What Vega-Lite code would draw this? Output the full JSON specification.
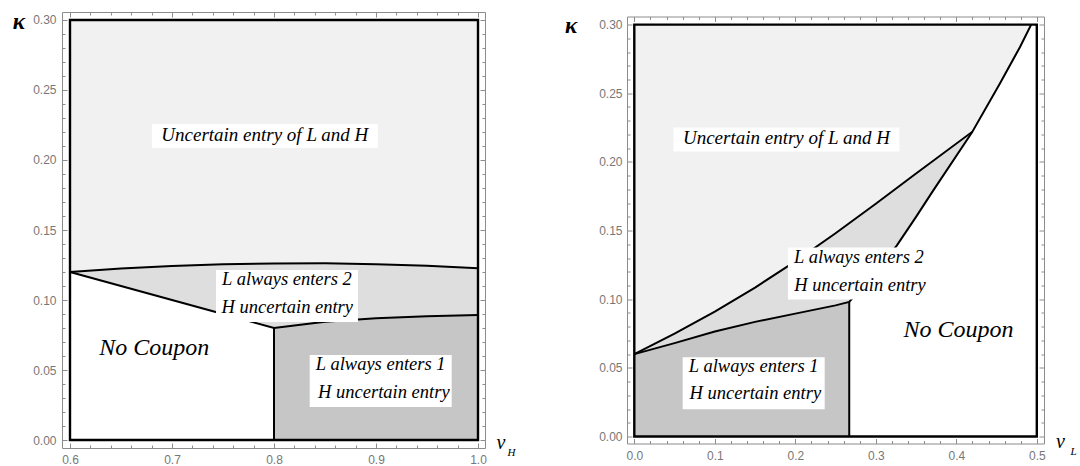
{
  "$schema": "https://vega.github.io/schema/vega-lite/v6.json",
  "background": "white",
  "padding": {"left": 12, "top": 10, "right": 0, "bottom": 0},
  "spacing": 142,
  "bounds": "flush",
  "center": true,
  "config": {
    "view": {"stroke": null},
    "axis": {
      "grid": false,
      "domainColor": "#8c8c8c",
      "tickColor": "#8c8c8c",
      "labelColor": "#777777",
      "labelFont": "Liberation Sans",
      "labelFontSize": 12,
      "tickSize": -5,
      "labelOverlap": false,
      "labelFlush": false,
      "titleFont": "Liberation Serif",
      "titleColor": "black",
      "titleFontStyle": "italic",
      "titleFontWeight": "normal",
      "titlePadding": 0
    }
  },
  "datasets": {
    "L_reg": [
      {"x": 0.6, "lo": 0.12, "hi": 0.12},
      {"x": 0.65, "lo": 0.11, "hi": 0.1225},
      {"x": 0.7, "lo": 0.1, "hi": 0.1243},
      {"x": 0.75, "lo": 0.09, "hi": 0.1255},
      {"x": 0.8, "lo": 0.08, "hi": 0.1261},
      {"x": 0.85, "lo": 0.0845, "hi": 0.1262},
      {"x": 0.9, "lo": 0.087, "hi": 0.1256},
      {"x": 0.95, "lo": 0.0884, "hi": 0.1244},
      {"x": 1.0, "lo": 0.0893, "hi": 0.1226}
    ],
    "L_vert": [{"x": 0.8, "y": 0, "y2": 0.08}],
    "L_frame": [{"x": 0.6, "x2": 1.0, "y": 0, "y2": 0.3}],
    "L_text": [
      {"t": "Uncertain entry of  L and  H", "x": 0.791, "y": 0.2136, "kind": "u", "line": 1},
      {"t": "L always enters 2", "x": 0.8127, "y": 0.1107, "kind": "c", "line": 1},
      {"t": "H uncertain entry", "x": 0.813, "y": 0.0907, "kind": "c", "line": 2},
      {"t": "L always enters 1", "x": 0.9046, "y": 0.05, "kind": "c", "line": 1},
      {"t": "H uncertain entry", "x": 0.9077, "y": 0.03, "kind": "c", "line": 2},
      {"t": "No Coupon", "x": 0.6825, "y": 0.0607, "kind": "n", "line": 1}
    ],
    "R_up": [
      {"x": 0, "y": 0.06},
      {"x": 0.05, "y": 0.075},
      {"x": 0.1, "y": 0.091},
      {"x": 0.15, "y": 0.1085},
      {"x": 0.2, "y": 0.1275},
      {"x": 0.25, "y": 0.148},
      {"x": 0.3, "y": 0.1695},
      {"x": 0.35, "y": 0.1915},
      {"x": 0.42, "y": 0.222},
      {"x": 0.454, "y": 0.257},
      {"x": 0.479, "y": 0.2835},
      {"x": 0.493, "y": 0.3}
    ],
    "R_mid": [
      {"x": 0, "lo": 0.06, "hi": 0.06},
      {"x": 0.05, "lo": 0.068, "hi": 0.075},
      {"x": 0.1, "lo": 0.0765, "hi": 0.091},
      {"x": 0.15, "lo": 0.0835, "hi": 0.1085},
      {"x": 0.2, "lo": 0.0895, "hi": 0.1275},
      {"x": 0.25, "lo": 0.0955, "hi": 0.148},
      {"x": 0.267, "lo": 0.098, "hi": 0.1553},
      {"x": 0.3, "lo": 0.12, "hi": 0.1695},
      {"x": 0.326, "lo": 0.139, "hi": 0.181},
      {"x": 0.35, "lo": 0.16, "hi": 0.1915},
      {"x": 0.37, "lo": 0.178, "hi": 0.2003},
      {"x": 0.42, "lo": 0.222, "hi": 0.222}
    ],
    "R_vert": [{"x": 0.267, "y": 0, "y2": 0.098}],
    "R_frame": [{"x": 0, "x2": 0.5, "y": 0, "y2": 0.3}],
    "R_text": [
      {"t": "Uncertain entry of  L and  H", "x": 0.189, "y": 0.2127, "kind": "u", "line": 1},
      {"t": "L always enters 2", "x": 0.279, "y": 0.1267, "kind": "c", "line": 1},
      {"t": "H uncertain entry", "x": 0.2804, "y": 0.1063, "kind": "c", "line": 2},
      {"t": "L always enters 1", "x": 0.1483, "y": 0.0468, "kind": "c", "line": 1},
      {"t": "H uncertain entry", "x": 0.1504, "y": 0.0275, "kind": "c", "line": 2},
      {"t": "No Coupon", "x": 0.4027, "y": 0.0728, "kind": "n", "line": 1}
    ]
  },
  "hconcat": [
    {
      "width": 423,
      "height": 436,
      "resolve": {"axis": {"x": "independent", "y": "independent"}},
      "layer": [
        {
          "data": {"name": "L_reg"},
          "mark": {"type": "area", "color": "#f1f1f1"},
          "encoding": {
            "x": {"field": "x", "type": "quantitative", "scale": {"domain": [0.59216, 1.00686], "nice": false, "zero": false},
              "axis": {"orient": "bottom", "values": [0.6,0.62,0.64,0.66,0.68,0.7,0.72,0.74,0.76,0.78,0.8,0.82,0.84,0.86,0.88,0.9,0.92,0.94,0.96,0.98,1.0],
                "labelExpr": "abs(datum.value*10-round(datum.value*10))<1e-6 ? format(datum.value,'.1f') : ''",
                "tickDash": {"condition": {"test": "abs(datum.value*10-round(datum.value*10))>1e-6", "value": [3, 10]}, "value": []},
                "labelPadding": 11.5, "title": "v", "titleFontSize": 20, "titleX": 438.5, "titleY": 0.3, "titleAlign": "center", "titleBaseline": "alphabetic", "titleAngle": 0}},
            "y": {"field": "hi", "type": "quantitative", "scale": {"domain": [-0.00571, 0.30571], "nice": false, "zero": false},
              "axis": {"orient": "left", "values": [0,0.01,0.02,0.03,0.04,0.05,0.06,0.07,0.08,0.09,0.1,0.11,0.12,0.13,0.14,0.15,0.16,0.17,0.18,0.19,0.2,0.21,0.22,0.23,0.24,0.25,0.26,0.27,0.28,0.29,0.3],
                "labelExpr": "abs(datum.value*20-round(datum.value*20))<1e-6 ? format(datum.value,'.2f') : ''",
                "tickDash": {"condition": {"test": "abs(datum.value*20-round(datum.value*20))>1e-6", "value": [3, 10]}, "value": []},
                "labelPadding": 11, "title": "κ", "titleAngle": 0, "titleX": -43.7, "titleY": 16.3, "titleAlign": "center", "titleBaseline": "alphabetic", "titleFontSize": 23, "titleFontWeight": "bold"}},
            "y2": {"datum": 0.3}
          }
        },
        {
          "data": {"name": "L_reg"},
          "mark": {"type": "area", "color": "#dedede"},
          "encoding": {
            "x": {"field": "x", "type": "quantitative", "scale": {"domain": [0.59216, 1.00686], "nice": false, "zero": false},
              "axis": {"orient": "top", "values": [0.6,0.62,0.64,0.66,0.68,0.7,0.72,0.74,0.76,0.78,0.8,0.82,0.84,0.86,0.88,0.9,0.92,0.94,0.96,0.98,1.0],
                "labels": false,
                "tickDash": {"condition": {"test": "abs(datum.value*10-round(datum.value*10))>1e-6", "value": [3, 10]}, "value": []},
                "title": "H", "titleFontSize": 11, "titleX": 449, "titleY": 443, "titleAlign": "center", "titleBaseline": "alphabetic"}},
            "y": {"field": "lo", "type": "quantitative", "scale": {"domain": [-0.00571, 0.30571], "nice": false, "zero": false},
              "axis": {"orient": "right", "values": [0,0.01,0.02,0.03,0.04,0.05,0.06,0.07,0.08,0.09,0.1,0.11,0.12,0.13,0.14,0.15,0.16,0.17,0.18,0.19,0.2,0.21,0.22,0.23,0.24,0.25,0.26,0.27,0.28,0.29,0.3],
                "labels": false,
                "tickDash": {"condition": {"test": "abs(datum.value*20-round(datum.value*20))>1e-6", "value": [3, 10]}, "value": []},
                "title": null}},
            "y2": {"field": "hi"}
          }
        },
        {
          "data": {"name": "L_reg"},
          "transform": [{"filter": "datum.x >= 0.8"}],
          "mark": {"type": "area", "color": "#c6c6c6"},
          "encoding": {
            "x": {"field": "x", "type": "quantitative", "scale": {"domain": [0.59216, 1.00686], "nice": false, "zero": false}, "axis": null},
            "y": {"field": "lo", "type": "quantitative", "scale": {"domain": [-0.00571, 0.30571], "nice": false, "zero": false}, "axis": null},
            "y2": {"datum": 0}
          }
        },
        {
          "data": {"name": "L_reg"},
          "mark": {"type": "line", "color": "black", "strokeWidth": 2},
          "encoding": {
            "x": {"field": "x", "type": "quantitative", "scale": {"domain": [0.59216, 1.00686], "nice": false, "zero": false}, "axis": null},
            "y": {"field": "hi", "type": "quantitative", "scale": {"domain": [-0.00571, 0.30571], "nice": false, "zero": false}, "axis": null}
          }
        },
        {
          "data": {"name": "L_reg"},
          "mark": {"type": "line", "color": "black", "strokeWidth": 2},
          "encoding": {
            "x": {"field": "x", "type": "quantitative", "scale": {"domain": [0.59216, 1.00686], "nice": false, "zero": false}, "axis": null},
            "y": {"field": "lo", "type": "quantitative", "scale": {"domain": [-0.00571, 0.30571], "nice": false, "zero": false}, "axis": null}
          }
        },
        {
          "data": {"name": "L_vert"},
          "mark": {"type": "rule", "color": "black", "strokeWidth": 2},
          "encoding": {
            "x": {"field": "x", "type": "quantitative", "scale": {"domain": [0.59216, 1.00686], "nice": false, "zero": false}, "axis": null},
            "y": {"field": "y", "type": "quantitative", "scale": {"domain": [-0.00571, 0.30571], "nice": false, "zero": false}, "axis": null},
            "y2": {"field": "y2"}
          }
        },
        {
          "data": {"name": "L_frame"},
          "mark": {"type": "rect", "filled": false, "color": "black", "strokeWidth": 2.4},
          "encoding": {
            "x": {"field": "x", "type": "quantitative", "scale": {"domain": [0.59216, 1.00686], "nice": false, "zero": false}, "axis": null},
            "x2": {"field": "x2"},
            "y": {"field": "y", "type": "quantitative", "scale": {"domain": [-0.00571, 0.30571], "nice": false, "zero": false}, "axis": null},
            "y2": {"field": "y2"}
          }
        },
        {
          "data": {"name": "L_text"},
          "transform": [{"filter": "datum.kind == 'c' && datum.line == 1"}],
          "mark": {"type": "point", "shape": "M-1,-0.366L1,-0.366L1,0.366L-1,0.366Z", "size": 20164, "filled": true, "color": "white", "opacity": 1, "strokeWidth": 0, "yOffset": 11},
          "encoding": {
            "x": {"field": "x", "type": "quantitative", "scale": {"domain": [0.59216, 1.00686], "nice": false, "zero": false}, "axis": null},
            "y": {"field": "y", "type": "quantitative", "scale": {"domain": [-0.00571, 0.30571], "nice": false, "zero": false}, "axis": null}
          }
        },
        {
          "data": {"name": "L_text"},
          "transform": [{"filter": "datum.kind == 'u'"}],
          "mark": {"type": "point", "shape": "M-1,-0.106L1,-0.106L1,0.106L-1,0.106Z", "size": 51076, "filled": true, "color": "white", "opacity": 1, "strokeWidth": 0, "yOffset": -5},
          "encoding": {
            "x": {"field": "x", "type": "quantitative", "scale": {"domain": [0.59216, 1.00686], "nice": false, "zero": false}, "axis": null},
            "y": {"field": "y", "type": "quantitative", "scale": {"domain": [-0.00571, 0.30571], "nice": false, "zero": false}, "axis": null}
          }
        },
        {
          "data": {"name": "L_text"},
          "transform": [{"filter": "datum.kind == 'u'"}],
          "mark": {"type": "text", "font": "Liberation Serif", "fontStyle": "italic", "fontSize": 19, "baseline": "alphabetic", "align": "center", "color": "black"},
          "encoding": {
            "x": {"field": "x", "type": "quantitative", "scale": {"domain": [0.59216, 1.00686], "nice": false, "zero": false}, "axis": null},
            "y": {"field": "y", "type": "quantitative", "scale": {"domain": [-0.00571, 0.30571], "nice": false, "zero": false}, "axis": null},
            "text": {"field": "t"}
          }
        },
        {
          "data": {"name": "L_text"},
          "transform": [{"filter": "datum.kind == 'c'"}],
          "mark": {"type": "text", "font": "Liberation Serif", "fontStyle": "italic", "fontSize": 18.5, "baseline": "alphabetic", "align": "center", "color": "black"},
          "encoding": {
            "x": {"field": "x", "type": "quantitative", "scale": {"domain": [0.59216, 1.00686], "nice": false, "zero": false}, "axis": null},
            "y": {"field": "y", "type": "quantitative", "scale": {"domain": [-0.00571, 0.30571], "nice": false, "zero": false}, "axis": null},
            "text": {"field": "t"}
          }
        },
        {
          "data": {"name": "L_text"},
          "transform": [{"filter": "datum.kind == 'n'"}],
          "mark": {"type": "text", "font": "Liberation Serif", "fontStyle": "italic", "fontSize": 24, "baseline": "alphabetic", "align": "center", "color": "black"},
          "encoding": {
            "x": {"field": "x", "type": "quantitative", "scale": {"domain": [0.59216, 1.00686], "nice": false, "zero": false}, "axis": null},
            "y": {"field": "y", "type": "quantitative", "scale": {"domain": [-0.00571, 0.30571], "nice": false, "zero": false}, "axis": null},
            "text": {"field": "t"}
          }
        }
      ]
    },
    {
      "width": 417,
      "height": 427,
      "resolve": {"axis": {"x": "independent", "y": "independent"}},
      "layer": [
        {
          "data": {"name": "R_up"},
          "mark": {"type": "area", "color": "#f1f1f1"},
          "encoding": {
            "x": {"field": "x", "type": "quantitative", "scale": {"domain": [-0.00907, 0.50894], "nice": false, "zero": false},
              "axis": {"orient": "bottom", "values": [0,0.02,0.04,0.06,0.08,0.1,0.12,0.14,0.16,0.18,0.2,0.22,0.24,0.26,0.28,0.3,0.32,0.34,0.36,0.38,0.4,0.42,0.44,0.46,0.48,0.5],
                "labelExpr": "abs(datum.value*10-round(datum.value*10))<1e-6 ? format(datum.value,'.1f') : ''",
                "tickDash": {"condition": {"test": "abs(datum.value*10-round(datum.value*10))>1e-6", "value": [3, 10]}, "value": []},
                "labelPadding": 12, "title": "v", "titleFontSize": 20, "titleX": 433, "titleY": 3.5, "titleAlign": "center", "titleBaseline": "alphabetic", "titleAngle": 0}},
            "y": {"field": "y", "type": "quantitative", "scale": {"domain": [-0.0051, 0.3059], "nice": false, "zero": false},
              "axis": {"orient": "left", "values": [0,0.01,0.02,0.03,0.04,0.05,0.06,0.07,0.08,0.09,0.1,0.11,0.12,0.13,0.14,0.15,0.16,0.17,0.18,0.19,0.2,0.21,0.22,0.23,0.24,0.25,0.26,0.27,0.28,0.29,0.3],
                "labelExpr": "abs(datum.value*20-round(datum.value*20))<1e-6 ? format(datum.value,'.2f') : ''",
                "tickDash": {"condition": {"test": "abs(datum.value*20-round(datum.value*20))>1e-6", "value": [3, 10]}, "value": []},
                "labelPadding": 10, "title": "κ", "titleAngle": 0, "titleX": -56.5, "titleY": 15.7, "titleAlign": "center", "titleBaseline": "alphabetic", "titleFontSize": 23, "titleFontWeight": "bold"}},
            "y2": {"datum": 0.3}
          }
        },
        {
          "data": {"name": "R_mid"},
          "mark": {"type": "area", "color": "#dedede"},
          "encoding": {
            "x": {"field": "x", "type": "quantitative", "scale": {"domain": [-0.00907, 0.50894], "nice": false, "zero": false},
              "axis": {"orient": "top", "values": [0,0.02,0.04,0.06,0.08,0.1,0.12,0.14,0.16,0.18,0.2,0.22,0.24,0.26,0.28,0.3,0.32,0.34,0.36,0.38,0.4,0.42,0.44,0.46,0.48,0.5],
                "labels": false,
                "tickDash": {"condition": {"test": "abs(datum.value*10-round(datum.value*10))>1e-6", "value": [3, 10]}, "value": []},
                "title": "L", "titleFontSize": 11, "titleX": 446, "titleY": 438, "titleAlign": "center", "titleBaseline": "alphabetic"}},
            "y": {"field": "lo", "type": "quantitative", "scale": {"domain": [-0.0051, 0.3059], "nice": false, "zero": false},
              "axis": {"orient": "right", "values": [0,0.01,0.02,0.03,0.04,0.05,0.06,0.07,0.08,0.09,0.1,0.11,0.12,0.13,0.14,0.15,0.16,0.17,0.18,0.19,0.2,0.21,0.22,0.23,0.24,0.25,0.26,0.27,0.28,0.29,0.3],
                "labels": false,
                "tickDash": {"condition": {"test": "abs(datum.value*20-round(datum.value*20))>1e-6", "value": [3, 10]}, "value": []},
                "title": null}},
            "y2": {"field": "hi"}
          }
        },
        {
          "data": {"name": "R_mid"},
          "transform": [{"filter": "datum.x <= 0.267"}],
          "mark": {"type": "area", "color": "#c6c6c6"},
          "encoding": {
            "x": {"field": "x", "type": "quantitative", "scale": {"domain": [-0.00907, 0.50894], "nice": false, "zero": false}, "axis": null},
            "y": {"field": "lo", "type": "quantitative", "scale": {"domain": [-0.0051, 0.3059], "nice": false, "zero": false}, "axis": null},
            "y2": {"datum": 0}
          }
        },
        {
          "data": {"name": "R_up"},
          "mark": {"type": "line", "color": "black", "strokeWidth": 2},
          "encoding": {
            "x": {"field": "x", "type": "quantitative", "scale": {"domain": [-0.00907, 0.50894], "nice": false, "zero": false}, "axis": null},
            "y": {"field": "y", "type": "quantitative", "scale": {"domain": [-0.0051, 0.3059], "nice": false, "zero": false}, "axis": null}
          }
        },
        {
          "data": {"name": "R_mid"},
          "mark": {"type": "line", "color": "black", "strokeWidth": 2},
          "encoding": {
            "x": {"field": "x", "type": "quantitative", "scale": {"domain": [-0.00907, 0.50894], "nice": false, "zero": false}, "axis": null},
            "y": {"field": "lo", "type": "quantitative", "scale": {"domain": [-0.0051, 0.3059], "nice": false, "zero": false}, "axis": null}
          }
        },
        {
          "data": {"name": "R_vert"},
          "mark": {"type": "rule", "color": "black", "strokeWidth": 2},
          "encoding": {
            "x": {"field": "x", "type": "quantitative", "scale": {"domain": [-0.00907, 0.50894], "nice": false, "zero": false}, "axis": null},
            "y": {"field": "y", "type": "quantitative", "scale": {"domain": [-0.0051, 0.3059], "nice": false, "zero": false}, "axis": null},
            "y2": {"field": "y2"}
          }
        },
        {
          "data": {"name": "R_frame"},
          "mark": {"type": "rect", "filled": false, "color": "black", "strokeWidth": 2.4},
          "encoding": {
            "x": {"field": "x", "type": "quantitative", "scale": {"domain": [-0.00907, 0.50894], "nice": false, "zero": false}, "axis": null},
            "x2": {"field": "x2"},
            "y": {"field": "y", "type": "quantitative", "scale": {"domain": [-0.0051, 0.3059], "nice": false, "zero": false}, "axis": null},
            "y2": {"field": "y2"}
          }
        },
        {
          "data": {"name": "R_text"},
          "transform": [{"filter": "datum.kind == 'c' && datum.line == 1"}],
          "mark": {"type": "point", "shape": "M-1,-0.366L1,-0.366L1,0.366L-1,0.366Z", "size": 20164, "filled": true, "color": "white", "opacity": 1, "strokeWidth": 0, "yOffset": 11},
          "encoding": {
            "x": {"field": "x", "type": "quantitative", "scale": {"domain": [-0.00907, 0.50894], "nice": false, "zero": false}, "axis": null},
            "y": {"field": "y", "type": "quantitative", "scale": {"domain": [-0.0051, 0.3059], "nice": false, "zero": false}, "axis": null}
          }
        },
        {
          "data": {"name": "R_text"},
          "transform": [{"filter": "datum.kind == 'u'"}],
          "mark": {"type": "point", "shape": "M-1,-0.106L1,-0.106L1,0.106L-1,0.106Z", "size": 51076, "filled": true, "color": "white", "opacity": 1, "strokeWidth": 0, "yOffset": -5},
          "encoding": {
            "x": {"field": "x", "type": "quantitative", "scale": {"domain": [-0.00907, 0.50894], "nice": false, "zero": false}, "axis": null},
            "y": {"field": "y", "type": "quantitative", "scale": {"domain": [-0.0051, 0.3059], "nice": false, "zero": false}, "axis": null}
          }
        },
        {
          "data": {"name": "R_text"},
          "transform": [{"filter": "datum.kind == 'u'"}],
          "mark": {"type": "text", "font": "Liberation Serif", "fontStyle": "italic", "fontSize": 19, "baseline": "alphabetic", "align": "center", "color": "black"},
          "encoding": {
            "x": {"field": "x", "type": "quantitative", "scale": {"domain": [-0.00907, 0.50894], "nice": false, "zero": false}, "axis": null},
            "y": {"field": "y", "type": "quantitative", "scale": {"domain": [-0.0051, 0.3059], "nice": false, "zero": false}, "axis": null},
            "text": {"field": "t"}
          }
        },
        {
          "data": {"name": "R_text"},
          "transform": [{"filter": "datum.kind == 'c'"}],
          "mark": {"type": "text", "font": "Liberation Serif", "fontStyle": "italic", "fontSize": 18.5, "baseline": "alphabetic", "align": "center", "color": "black"},
          "encoding": {
            "x": {"field": "x", "type": "quantitative", "scale": {"domain": [-0.00907, 0.50894], "nice": false, "zero": false}, "axis": null},
            "y": {"field": "y", "type": "quantitative", "scale": {"domain": [-0.0051, 0.3059], "nice": false, "zero": false}, "axis": null},
            "text": {"field": "t"}
          }
        },
        {
          "data": {"name": "R_text"},
          "transform": [{"filter": "datum.kind == 'n'"}],
          "mark": {"type": "text", "font": "Liberation Serif", "fontStyle": "italic", "fontSize": 24, "baseline": "alphabetic", "align": "center", "color": "black"},
          "encoding": {
            "x": {"field": "x", "type": "quantitative", "scale": {"domain": [-0.00907, 0.50894], "nice": false, "zero": false}, "axis": null},
            "y": {"field": "y", "type": "quantitative", "scale": {"domain": [-0.0051, 0.3059], "nice": false, "zero": false}, "axis": null},
            "text": {"field": "t"}
          }
        }
      ]
    }
  ]
}
